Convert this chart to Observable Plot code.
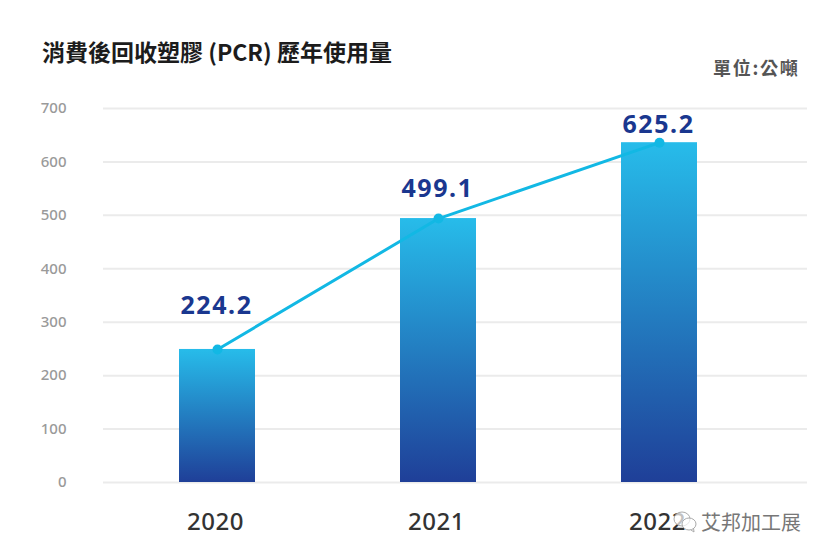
<!DOCTYPE html>
<html><head><meta charset="utf-8">
<script src="https://cdn.jsdelivr.net/npm/d3@7"></script>
<script src="https://cdn.jsdelivr.net/npm/@observablehq/plot@0.6"></script>
<style>
html,body{margin:0;padding:0;background:#fff;width:827px;height:559px;overflow:hidden}
#wrap{position:relative;width:827px;height:559px}
#head{height:95px;position:relative}
#title{position:absolute;left:42px;top:34px;font:700 23px "Noto Sans CJK TC","Noto Sans",sans-serif;color:#1c1c1c;white-space:nowrap}
#unit{position:absolute;left:713px;top:54px;font:700 18px "Noto Sans CJK TC","Noto Sans",sans-serif;letter-spacing:1.7px;color:#555;white-space:nowrap}
#mark{position:absolute;left:701px;top:507px;font:400 20px "Noto Sans CJK TC",sans-serif;color:#777;white-space:nowrap}
#chart svg{display:block}
#chart svg g[aria-label="text"] text{letter-spacing:1.6px}
#chart svg g[aria-label="x-axis tick label"] text{letter-spacing:.5px}
#icon{position:absolute;left:671px;top:507px}
</style></head><body>
<div id="wrap">
<div id="head"><div id="title">消費後回收塑膠 (PCR) 歷年使用量</div><div id="unit">單位:公噸</div></div>
<div id="chart"></div>
<svg id="icon" width="28" height="28" viewBox="0 0 28 28" fill="none" stroke="#aaa" stroke-width="1"><ellipse cx="11" cy="12" rx="8" ry="7" fill="#fff" fill-opacity=".7"/><ellipse cx="18" cy="17" rx="7" ry="6" fill="#fff" fill-opacity=".7"/><path d="M20 23l3 2-.5-4"/></svg>
<div id="mark">艾邦加工展</div>
</div>
<script>
const years = ["2020", "2021", "2022"];
const barTops = [249, 494, 636];
const valueLabels = ["224.2", "499.1", "625.2"];
const labelHeights = [330, 549, 670];
const yTicks = [0, 100, 200, 300, 400, 500, 600, 700];

const rows = years.map((year, i) => ({year, top: barTops[i], label: valueLabels[i], labelAt: labelHeights[i]}));

const gradient = () => {
  const svg = d3.create("svg:g");
  const g = svg.append("defs").append("linearGradient")
    .attr("id", "barGrad").attr("x1", 0).attr("y1", 0).attr("x2", 0).attr("y2", 1);
  g.append("stop").attr("offset", "0%").attr("stop-color", "#27bcea");
  g.append("stop").attr("offset", "100%").attr("stop-color", "#1f3f98");
  return svg.node();
};

const chart = Plot.plot({
  width: 827, height: 464,
  marginLeft: 103, marginRight: 20, marginTop: 13, marginBottom: 77,
  style: {background: "transparent", overflow: "visible"},
  x: {type: "band", domain: years, range: [32, 844], padding: 0.658, align: 0.5, label: null},
  y: {domain: [0, 700], ticks: yTicks, label: null},
  marks: [
    gradient,
    Plot.ruleY(yTicks, {stroke: "#ebebeb", strokeWidth: 2, strokeOpacity: 1}),
    Plot.axisY({ticks: yTicks, tickSize: 0, tickPadding: 37, label: null, fontSize: 15,
      fill: "#9a9a9a", fontFamily: "Noto Sans", fontWeight: 500}),
    Plot.axisX({tickSize: 0, tickPadding: 30, label: null, fontSize: 24, fill: "#333", fontFamily: "Noto Sans", fontWeight: 500,
      dx: -2}),
    Plot.barY(rows, {x: "year", y: "top", fill: "url(#barGrad)"}),
    Plot.line(rows, {x: "year", y: "top", stroke: "#12b8e4", strokeWidth: 3}),
    Plot.dot(rows, {x: "year", y: "top", fill: "#12b8e4", r: 5}),
    Plot.text(rows, {x: "year", y: "labelAt", text: "label", fontSize: 25, fontWeight: 700, dx: -1,
      fill: "#1a378f", fontFamily: "Noto Sans"})
  ]
});
document.getElementById("chart").append(chart);
</script>
</body></html>
